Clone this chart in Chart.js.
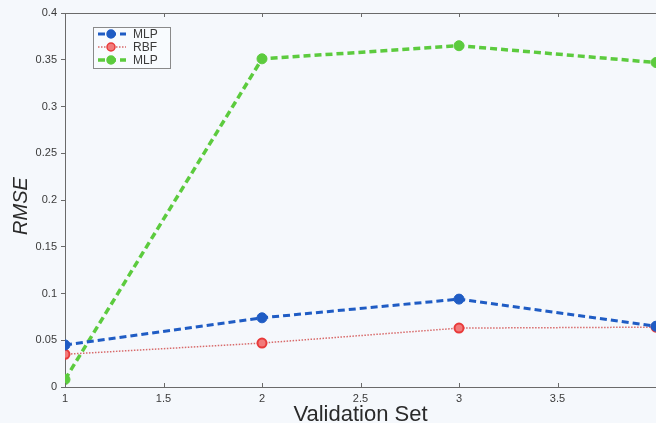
<!DOCTYPE html>
<html>
<head>
<meta charset="utf-8">
<script src="https://cdn.jsdelivr.net/npm/chart.js@4/dist/chart.umd.min.js"></script>
<style>
    html, body { margin: 0; padding: 0; background: #f5f8fc; overflow: hidden; }
    #wrap { width: 656px; height: 423px; }
</style>
</head>
<body>
<div id="wrap"><canvas id="rmseChart" width="656" height="423"></canvas></div>
<script>
// Validation sets on the x axis
const validationSets = [1, 2, 3, 4];

// RMSE per validation set
const mlpBlue = [0.045, 0.074, 0.094, 0.065];
const rbfRed = [0.035, 0.047, 0.063, 0.064];
const mlpGreen = [0.008, 0.351, 0.365, 0.347];

const legendNames = ['MLP', 'RBF', 'MLP'];

const xTicks = [1, 1.5, 2, 2.5, 3, 3.5, 4];
const yTicks = [0, 0.05, 0.1, 0.15, 0.2, 0.25, 0.3, 0.35, 0.4];

const axisColor = '#6a6a6a';
const textColor = '#3a3a3a';
const fontFamily = '"Liberation Sans", Arial, sans-serif';

function toPoints(values) {
    return validationSets.map((x, i) => ({ x: x, y: values[i] }));
}

// MATLAB style frame: top border, inward x ticks, legend box, axis titles
const matlabFrame = {
    id: 'matlabFrame',
    afterDraw(chart) {
        const ctx = chart.ctx;
        const area = chart.chartArea;
        const xs = chart.scales.x;
        ctx.save();

        ctx.strokeStyle = axisColor;
        ctx.lineWidth = 1;
        ctx.beginPath();
        ctx.moveTo(area.left, area.top + 0.5);
        ctx.lineTo(area.right, area.top + 0.5);
        ctx.stroke();

        // inward ticks on bottom and top
        ctx.beginPath();
        xTicks.forEach(v => {
            const px = Math.round(xs.getPixelForValue(v)) + 0.5;
            ctx.moveTo(px, area.bottom);
            ctx.lineTo(px, area.bottom - 4);
            ctx.moveTo(px, area.top);
            ctx.lineTo(px, area.top + 4);
        });
        ctx.stroke();

        // legend
        const lx = 93, ly = 27, lw = 77, lh = 41;
        ctx.fillStyle = '#f8fbfe';
        ctx.fillRect(lx, ly, lw, lh);
        ctx.strokeStyle = '#8a8a8a';
        ctx.strokeRect(lx + 0.5, ly + 0.5, lw, lh);
        chart.data.datasets.forEach((ds, i) => {
            const cy = ly + 7 + i * 13;
            ctx.strokeStyle = ds.borderColor;
            ctx.lineWidth = ds.borderWidth;
            ctx.setLineDash(ds.borderDash || []);
            ctx.beginPath();
            ctx.moveTo(lx + 5, cy);
            ctx.lineTo(lx + 33, cy);
            ctx.stroke();
            ctx.setLineDash([]);
            ctx.fillStyle = ds.pointBackgroundColor;
            ctx.strokeStyle = ds.pointBorderColor;
            ctx.lineWidth = 1.5;
            ctx.beginPath();
            ctx.arc(lx + 18, cy, 4, 0, Math.PI * 2);
            ctx.fill();
            ctx.stroke();
            ctx.fillStyle = textColor;
            ctx.font = '12px ' + fontFamily;
            ctx.textBaseline = 'middle';
            ctx.textAlign = 'left';
            ctx.fillText(legendNames[i], lx + 40, cy + 1);
        });

        // axis titles
        ctx.fillStyle = '#2a2a2a';
        ctx.font = '22px ' + fontFamily;
        ctx.textAlign = 'center';
        ctx.textBaseline = 'alphabetic';
        ctx.fillText('Validation Set', (area.left + area.right) / 2, 421);

        ctx.translate(27, (area.top + area.bottom) / 2 + 6);
        ctx.rotate(-Math.PI / 2);
        ctx.font = 'italic 20px ' + fontFamily;
        ctx.fillText('RMSE', 0, 0);
        ctx.restore();
    }
};

new Chart(document.getElementById('rmseChart'), {
    type: 'line',
    data: {
        datasets: [
            {
                label: legendNames[0],
                data: toPoints(mlpBlue),
                borderColor: '#1f5cc4',
                borderWidth: 3,
                borderDash: [7, 4],
                pointRadius: 5,
                pointBackgroundColor: '#1f5cc4',
                pointBorderColor: '#1f5cc4',
                pointBorderWidth: 1
            },
            {
                label: legendNames[1],
                data: toPoints(rbfRed),
                borderColor: '#d86a6a',
                borderWidth: 1.5,
                borderDash: [1.5, 1.5],
                pointRadius: 4.5,
                pointBackgroundColor: '#f27a7a',
                pointBorderColor: '#e83a3a',
                pointBorderWidth: 2
            },
            {
                label: legendNames[2],
                data: toPoints(mlpGreen),
                borderColor: '#5ccb3e',
                borderWidth: 3.5,
                borderDash: [7, 4],
                pointRadius: 5,
                pointBackgroundColor: '#5ccb3e',
                pointBorderColor: '#5ccb3e',
                pointBorderWidth: 1
            }
        ]
    },
    options: {
        responsive: false,
        animation: false,
        layout: { autoPadding: false, padding: { top: 13, right: 0, left: 0, bottom: 0 } },
        plugins: {
            legend: { display: false },
            tooltip: { enabled: false }
        },
        scales: {
            x: {
                type: 'linear',
                min: 1,
                max: 4,
                afterFit: scale => {
                    scale.height = 36;
                    scale.paddingLeft = 0;
                    scale.paddingRight = 0;
                },
                afterBuildTicks: scale => {
                    scale.ticks = xTicks.map(v => ({ value: v }));
                },
                grid: { display: false, drawTicks: false },
                border: { display: true, color: axisColor, width: 1 },
                ticks: {
                    padding: 5,
                    color: textColor,
                    maxRotation: 0,
                    font: { size: 11, family: fontFamily },
                    callback: v => (v >= 4 ? '' : String(v))
                }
            },
            y: {
                min: 0,
                max: 0.4,
                afterFit: scale => {
                    scale.width = 65;
                },
                afterBuildTicks: scale => {
                    scale.ticks = yTicks.map(v => ({ value: v }));
                },
                grid: {
                    display: true,
                    drawOnChartArea: false,
                    drawTicks: true,
                    tickLength: 4,
                    color: axisColor
                },
                border: { display: true, color: axisColor, width: 1 },
                ticks: {
                    padding: 4,
                    color: textColor,
                    font: { size: 11, family: fontFamily },
                    callback: v => String(+v.toFixed(2))
                }
            }
        }
    },
    plugins: [matlabFrame]
});
</script>
</body>
</html>
